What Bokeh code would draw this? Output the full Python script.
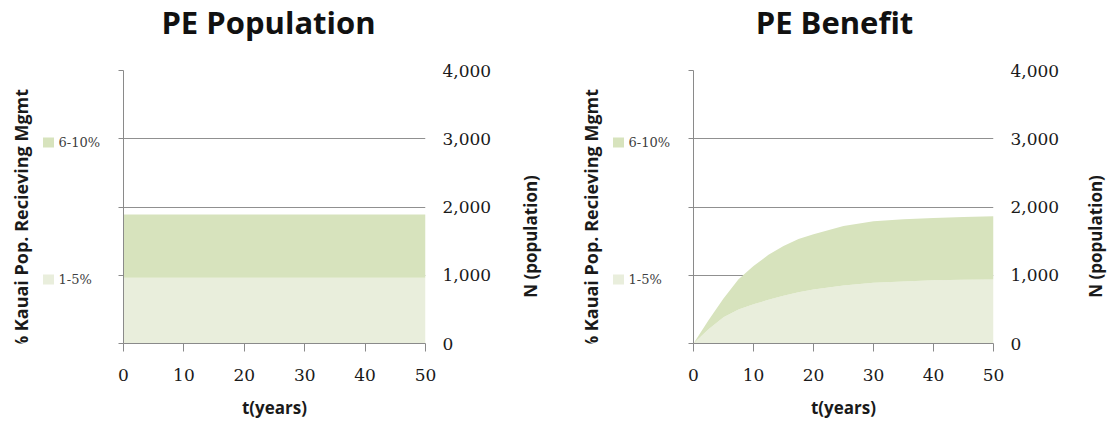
import math

from bokeh.core.properties import value
from bokeh.embed import file_html
from bokeh.layouts import column, row
from bokeh.models import (FixedTicker, Label, LinearAxis,
                          NumeralTickFormatter, Range1d)
from bokeh.plotting import figure
from bokeh.resources import INLINE

# --- data -------------------------------------------------------------
# PE Population: constant bands over the whole period
pop_years = [0, 50]
pop_low = [965, 965]        # 1-5% band top
pop_high = [1890, 1890]     # 6-10% band top (stacked)

# PE Benefit: bands that build up over time
ben_years = [0, 2.5, 5, 7.5, 10, 12.5, 15, 17.5, 20, 25, 30, 35, 40, 45, 50]
ben_low = [0, 210, 385, 500, 574, 640, 700, 750, 793, 850, 890, 910, 925, 933, 939]
ben_high = [0, 340, 660, 940, 1134, 1300, 1430, 1530, 1600, 1720, 1791, 1820, 1839, 1855, 1864]

x_ticks = [0, 10, 20, 30, 40, 50]
y_ticks = [0, 1000, 2000, 3000, 4000]
band_labels = ["1-5%", "6-10%"]
chart_titles = ["PE Population", "PE Benefit"]
y_left_label = "% Kauai Pop. Recieving Mgmt"
y_right_label = "N (population)"
x_label = "t(years)"

# --- styling / layout ---------------------------------------------------
LIGHT = "#e9eedc"
GREEN = "#d7e3bd"
AXIS = "#8a8a8a"
GRID = "#909090"
TEXT = "#1a1a1a"
SANS = "Open Sans"
SERIF = "DejaVu Serif"
W, H = 1111, 423
HEAD = 50                 # height of the title band
BODY = H - HEAD           # height of the chart row
TOP, BOTTOM = 20, 80      # chart frame borders inside the chart row


def page_y(y_from_top):
    """Strip y for a point given in pixels from the top of the page."""
    return H - y_from_top


def strip(width, height, y0, y1):
    """Plain strip drawn in page pixels (y measured up from the page bottom)."""
    s = figure(width=width, height=height, x_range=Range1d(0, width),
               y_range=Range1d(y0, y1),
               output_backend="svg", toolbar_location=None,
               x_axis_location=None, y_axis_location=None, min_border=0)
    s.outline_line_color = None
    s.xgrid.visible = False
    s.ygrid.visible = False
    return s


def body_strip(width):
    # strips in the chart row share the charts' frame band (page y 70..343)
    return strip(width, BODY, BOTTOM, BODY - TOP)


def axis_title(s, x, y_from_top, text, size):
    s.add_layout(Label(x=x, y=page_y(y_from_top), text=text, angle=math.pi / 2,
                       text_align="center", text_baseline="middle",
                       text_font=SANS, text_font_style="bold",
                       text_font_size=size, text_color=TEXT))


def make_key(width):
    """Strip left of a chart: rotated percentage title and the band key."""
    s = body_strip(width)
    edge = width + 10  # chart frame edge, in strip pixels
    axis_title(s, edge - 103, 220, y_left_label, "18px")

    names = [band_labels[1], band_labels[0]]
    colors = [GREEN, LIGHT]
    ys = [page_y(142), page_y(279)]
    s.rect(x=[edge - 75] * 2, y=ys, width=11, height=10,
           fill_color=colors, line_color=None)
    s.text(x=[edge - 65] * 2, y=ys, text=names, text_align="left",
           text_baseline="middle", text_font=value(SERIF),
           text_font_size="13px", text_color="#404040")
    return s


def make_right(width, x):
    s = body_strip(width)
    axis_title(s, x, 236, y_right_label, "17px")
    return s


def make_head(centers):
    s = strip(W, HEAD, H - HEAD, H)
    for title, cx in zip(chart_titles, centers):
        s.add_layout(Label(x=cx, y=page_y(21), text=title, text_align="center",
                           text_baseline="middle", text_font=SANS,
                           text_font_style="bold", text_font_size="31px",
                           text_color="#111111"))
    return s


def make_chart(years, low, high, width):
    p = figure(width=width, height=BODY,
               x_range=Range1d(0, 50), y_range=Range1d(0, 4000),
               output_backend="svg", toolbar_location=None,
               min_border_left=10, min_border_right=90,
               min_border_top=TOP, min_border_bottom=BOTTOM)
    p.outline_line_color = None

    p.varea(x=years, y1=[0] * len(years), y2=low, fill_color=LIGHT)
    p.varea(x=years, y1=low, y2=high, fill_color=GREEN)

    # bottom axis
    xa = p.xaxis[0]
    xa.ticker = FixedTicker(ticks=x_ticks)
    xa.axis_line_color = AXIS
    xa.major_tick_line_color = AXIS
    xa.major_tick_out = 8
    xa.major_tick_in = 0
    xa.minor_tick_line_color = None
    xa.major_label_text_font = SERIF
    xa.major_label_text_font_size = "17px"
    xa.major_label_text_color = TEXT
    xa.major_label_standoff = 17
    xa.axis_label = x_label
    xa.axis_label_text_font = SANS
    xa.axis_label_text_font_style = "bold"
    xa.axis_label_text_font_size = "17px"
    xa.axis_label_text_color = TEXT
    xa.axis_label_standoff = 12

    # left axis: line and outward ticks only
    ya = p.yaxis[0]
    ya.ticker = FixedTicker(ticks=y_ticks)
    ya.axis_line_color = AXIS
    ya.major_tick_line_color = AXIS
    ya.major_tick_out = 5
    ya.major_tick_in = 0
    ya.minor_tick_line_color = None
    ya.major_label_overrides = {v: "" for v in y_ticks}
    ya.major_label_standoff = 0

    p.xgrid.visible = False
    p.ygrid.ticker = FixedTicker(ticks=y_ticks)
    p.ygrid.grid_line_color = GRID

    # right axis with the population scale
    ra = LinearAxis(ticker=FixedTicker(ticks=y_ticks),
                    formatter=NumeralTickFormatter(format="0,0"),
                    axis_line_color=None, major_tick_line_color=None,
                    minor_tick_line_color=None,
                    major_tick_out=0, major_tick_in=0,
                    major_label_standoff=17,
                    major_label_text_font=SERIF,
                    major_label_text_font_size="17px",
                    major_label_text_color=TEXT)
    p.add_layout(ra, "right")
    return p


k1 = make_key(113)
p1 = make_chart(pop_years, pop_low, pop_high, 402)
r1 = make_right(45, 15)
k2 = make_key(123)
p2 = make_chart(ben_years, ben_low, ben_high, 400)
r2 = make_right(28, 12)

# chart frames run 123-425 and 693-993 across the page
head = make_head([(123 + 425) / 2 - 6, (693 + 993) / 2 - 9])

layout = column(head, row(k1, p1, r1, k2, p2, r2))
open("out.html", "w").write(file_html(layout, INLINE))
